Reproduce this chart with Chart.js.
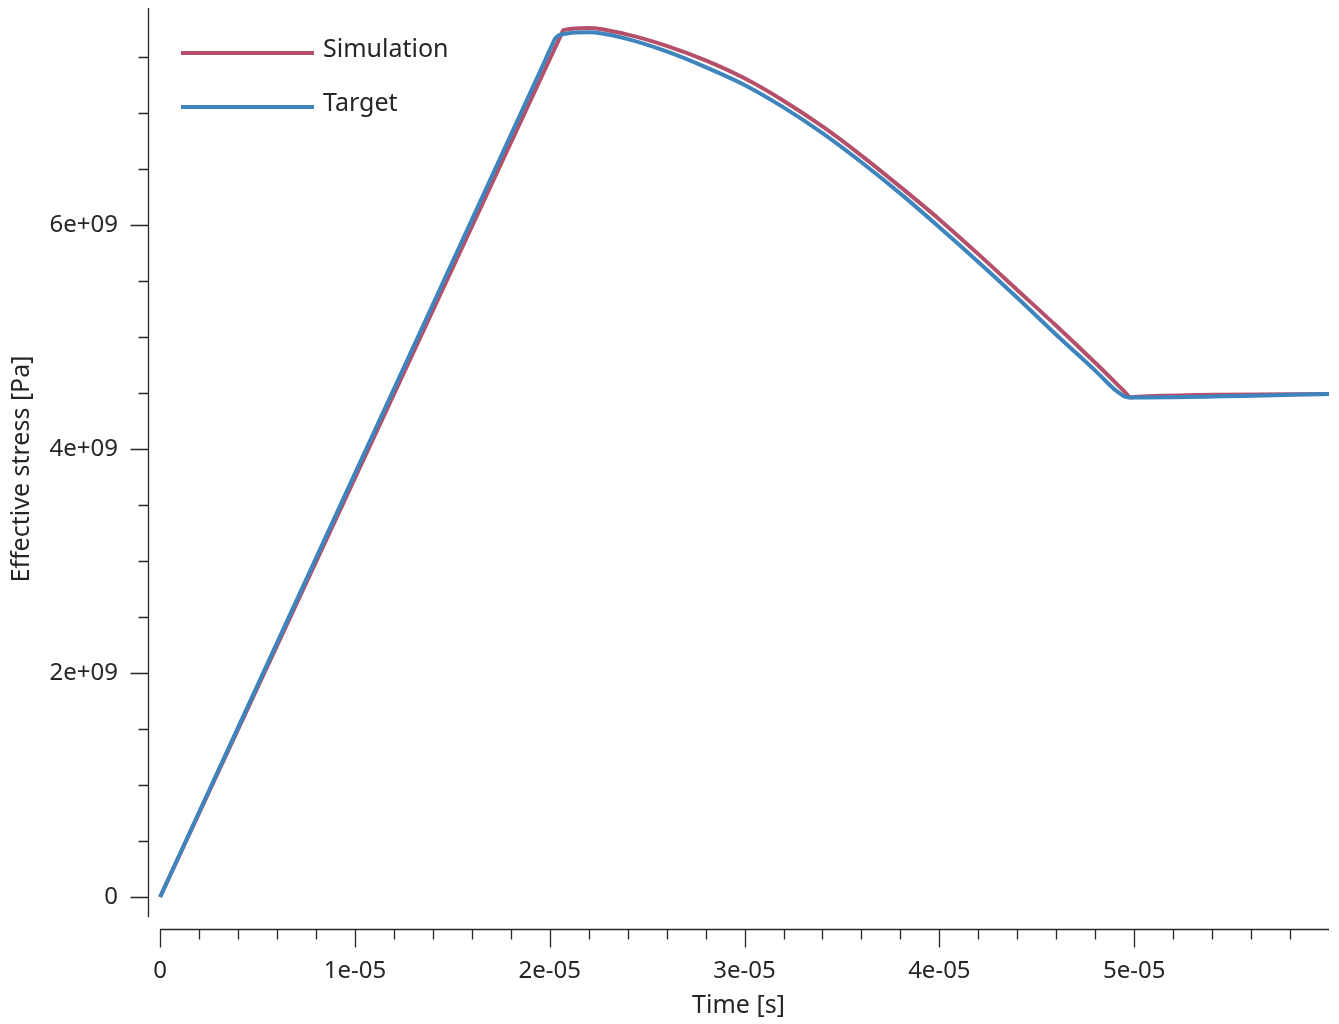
<!DOCTYPE html>
<html>
<head>
<meta charset="utf-8">
<script src="https://cdn.jsdelivr.net/npm/chart.js@4.4.1/dist/chart.umd.min.js"></script>
<style>
html,body{margin:0;padding:0;background:#fff;}
#wrap{width:1339px;height:1024px;}
</style>
</head>
<body>
<div id="wrap"><canvas id="chart" width="1339" height="1024"></canvas></div>
<script>
// Data (time in s, stress in Pa)
const simTime   = [0, 1.0e-5, 2.0e-5, 2.055e-5, 2.07e-5, 2.2e-5, 2.4e-5, 2.6e-5, 2.8e-5, 3.0e-5, 3.2e-5, 3.4e-5, 3.6e-5, 3.8e-5, 4.0e-5, 4.2e-5, 4.4e-5, 4.6e-5, 4.8e-5, 4.9e-5, 4.96e-5, 4.98e-5, 5.0e-5, 6.0e-5];
const simStress = [0, 3.74e9, 7.48e9, 7.685e9, 7.74e9, 7.76e9, 7.70e9, 7.60e9, 7.47e9, 7.31e9, 7.11e9, 6.88e9, 6.62e9, 6.34e9, 6.05e9, 5.74e9, 5.42e9, 5.10e9, 4.77e9, 4.60e9, 4.495e9, 4.46e9, 4.465e9, 4.49e9];

const targetTime   = [0, 1.0e-5, 1.95e-5, 2.01e-5, 2.03e-5, 2.09e-5, 2.2e-5, 2.4e-5, 2.6e-5, 2.8e-5, 3.0e-5, 3.2e-5, 3.4e-5, 3.6e-5, 3.8e-5, 4.0e-5, 4.2e-5, 4.4e-5, 4.6e-5, 4.8e-5, 4.915e-5, 4.97e-5, 5.0e-5, 6.0e-5];
const targetStress = [0, 3.78e9, 7.37e9, 7.60e9, 7.67e9, 7.71e9, 7.72e9, 7.66e9, 7.55e9, 7.41e9, 7.25e9, 7.05e9, 6.82e9, 6.56e9, 6.28e9, 5.98e9, 5.67e9, 5.35e9, 5.02e9, 4.70e9, 4.51e9, 4.46e9, 4.46e9, 4.49e9];

// Ticks
const xMajorTicks  = [0, 1e-5, 2e-5, 3e-5, 4e-5, 5e-5];
const xTickLabels  = ["0", "1e-05", "2e-05", "3e-05", "4e-05", "5e-05"];
const xMinorTicks  = [2e-6, 4e-6, 6e-6, 8e-6, 1.2e-5, 1.4e-5, 1.6e-5, 1.8e-5, 2.2e-5, 2.4e-5, 2.6e-5, 2.8e-5,
                      3.2e-5, 3.4e-5, 3.6e-5, 3.8e-5, 4.2e-5, 4.4e-5, 4.6e-5, 4.8e-5, 5.2e-5, 5.4e-5, 5.6e-5, 5.8e-5];
const yMajorTicks  = [0, 2e9, 4e9, 6e9];
const yTickLabels  = ["0", "2e+09", "4e+09", "6e+09"];
const yMinorTicks  = [5e8, 1e9, 1.5e9, 2.5e9, 3e9, 3.5e9, 4.5e9, 5e9, 5.5e9, 6.5e9, 7e9, 7.5e9];

// Axis extents (the spines are drawn apart, matplotlib style)
const xRange = [-6.2e-7, 6e-5];
const yRange = [-2.946e8, 7.9375e9];
const xSpine = [0, 6e-5];
const ySpine = [-1.8e8, 7.9375e9];

const SIM_COLOR = "#b4506a";
const TARGET_COLOR = "#3e84bd";
const INK = "#262626";
const FONT = "'Segoe UI', 'Noto Sans', sans-serif";

const toPoints = (xs, ys) => xs.map((x, i) => ({ x: x, y: ys[i] }));

// Egen axelritning + legend
const axesPlugin = {
  id: "axesPlugin",
  afterDraw(chart){
    const ctx = chart.ctx;
    const xs = chart.scales.x, ys = chart.scales.y;
    const yAxisX = Math.round(xs.getPixelForValue(xRange[0])) + 0.5;
    const xAxisY = Math.round(ys.getPixelForValue(yRange[0])) - 0.5;
    ctx.save();
    ctx.strokeStyle = INK;
    ctx.lineWidth = 1.3;

    // y axis
    ctx.beginPath();
    ctx.moveTo(yAxisX, ys.getPixelForValue(ySpine[1]));
    ctx.lineTo(yAxisX, ys.getPixelForValue(ySpine[0]));
    yMajorTicks.forEach(v => { const p = Math.round(ys.getPixelForValue(v)) + 0.5; ctx.moveTo(yAxisX - 18, p); ctx.lineTo(yAxisX, p); });
    yMinorTicks.forEach(v => { const p = Math.round(ys.getPixelForValue(v)) + 0.5; ctx.moveTo(yAxisX - 10, p); ctx.lineTo(yAxisX, p); });
    ctx.stroke();

    // x axis
    ctx.beginPath();
    ctx.moveTo(xs.getPixelForValue(xSpine[0]), xAxisY);
    ctx.lineTo(xs.getPixelForValue(xSpine[1]), xAxisY);
    xMajorTicks.forEach(v => { const p = Math.round(xs.getPixelForValue(v)) + 0.5; ctx.moveTo(p, xAxisY); ctx.lineTo(p, xAxisY + 18); });
    xMinorTicks.forEach(v => { const p = Math.round(xs.getPixelForValue(v)) + 0.5; ctx.moveTo(p, xAxisY); ctx.lineTo(p, xAxisY + 10); });
    ctx.stroke();

    // legend
    ctx.font = "25px " + FONT;
    ctx.textBaseline = "middle";
    ctx.fillStyle = INK;
    chart.data.datasets.forEach((ds, i) => {
      const ly = 53 + i * 54;
      ctx.strokeStyle = ds.borderColor;
      ctx.lineWidth = 4;
      ctx.beginPath();
      ctx.moveTo(181, ly); ctx.lineTo(314, ly);
      ctx.stroke();
      ctx.fillText(ds.label, 323, ly - 3);
    });
    ctx.restore();
  }
};

new Chart(document.getElementById("chart"), {
  type: "scatter",
  data: {
    datasets: [
      { label: "Simulation", data: toPoints(simTime, simStress), borderColor: SIM_COLOR, backgroundColor: SIM_COLOR,
        showLine: true, borderWidth: 4, pointRadius: 0, cubicInterpolationMode: "monotone", order: 1 },
      { label: "Target", data: toPoints(targetTime, targetStress), borderColor: TARGET_COLOR, backgroundColor: TARGET_COLOR,
        showLine: true, borderWidth: 4, pointRadius: 0, cubicInterpolationMode: "monotone", order: 0 }
    ]
  },
  options: {
    responsive: false,
    animation: false,
    layout: { padding: { top: 8, right: 10, left: 0, bottom: 0 } },
    plugins: { legend: { display: false }, tooltip: { enabled: false } },
    scales: {
      x: {
        type: "linear", min: xRange[0], max: xRange[1],
        grid: { display: false, drawTicks: false }, border: { display: false },
        afterBuildTicks: s => { s.ticks = xMajorTicks.map(v => ({ value: v })); },
        afterFit: s => { s.height = 94; s.paddingLeft = 0; s.paddingRight = 0; },
        ticks: { autoSkip: false, maxRotation: 0, padding: 27, color: INK, font: { family: FONT, size: 24 },
          callback: (v, i) => xTickLabels[i] },
        title: { display: true, text: "Time [s]", color: INK, font: { family: FONT, size: 25 }, padding: { top: 0, bottom: 3 } }
      },
      y: {
        type: "linear", min: yRange[0], max: yRange[1],
        grid: { display: false, drawTicks: false }, border: { display: false },
        afterBuildTicks: s => { s.ticks = yMajorTicks.map(v => ({ value: v })); },
        afterFit: s => { s.width = 148; s.paddingTop = 0; s.paddingBottom = 0; },
        ticks: { autoSkip: false, padding: 30, color: INK, font: { family: FONT, size: 24 },
          callback: (v, i) => yTickLabels[i] },
        title: { display: true, text: "Effective stress [Pa]", color: INK, font: { family: FONT, size: 25 }, padding: { top: 7, bottom: 0 } }
      }
    }
  },
  plugins: [axesPlugin]
});
</script>
</body>
</html>
